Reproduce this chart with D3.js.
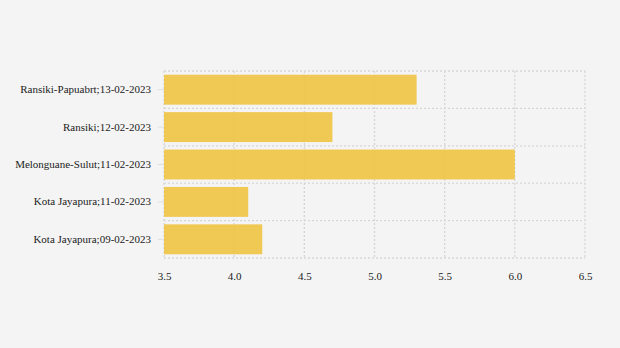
<!DOCTYPE html>
<html><head><meta charset="utf-8">
<script src="https://cdn.jsdelivr.net/npm/d3@7"></script>
<style>body{margin:0;background:#f4f4f4;}svg{display:block;} svg text{font-family:"Liberation Serif","Times New Roman",serif !important;}</style>
</head><body>
<script>
const categories = ["Ransiki-Papuabrt;13-02-2023","Ransiki;12-02-2023","Melonguane-Sulut;11-02-2023","Kota Jayapura;11-02-2023","Kota Jayapura;09-02-2023"];
const values = [5.3, 4.7, 6.0, 4.1, 4.2];
const xTicks = [3.5, 4.0, 4.5, 5.0, 5.5, 6.0, 6.5];

const W = 620, H = 348;
const m = {left:164, right:35, top:71, bottom:90};
const svg = d3.select("body").append("svg").attr("width", W).attr("height", H);
svg.append("rect").attr("width", W).attr("height", H).attr("fill", "#f4f4f4");

const x = d3.scaleLinear().domain([3.5, 6.5]).range([m.left, W - m.right]);
const y = d3.scaleBand().domain(categories).range([m.top, H - m.bottom]).paddingInner(0.2).paddingOuter(0.1);

// grid
const grid = svg.append("g").attr("stroke", "#d6d6d6").attr("stroke-width", 1.3).attr("stroke-dasharray", "2,2");
grid.selectAll("line.v").data(xTicks).join("line").attr("class","v")
  .attr("x1", d => x(d)).attr("x2", d => x(d)).attr("y1", m.top).attr("y2", H - m.bottom);
const bounds = d3.range(categories.length + 1).map(i => m.top + i * (H - m.bottom - m.top) / categories.length);
grid.selectAll("line.h").data(bounds).join("line").attr("class","h")
  .attr("x1", m.left).attr("x2", W - m.right).attr("y1", d => d).attr("y2", d => d);

// bars
svg.append("g").selectAll("rect").data(categories).join("rect")
  .attr("x", x(3.5)).attr("y", d => y(d))
  .attr("width", (d,i) => x(values[i]) - x(3.5))
  .attr("height", y.bandwidth())
  .attr("fill", "#efc548").attr("fill-opacity", 0.93);

// y axis
const yAxis = svg.append("g").attr("transform", `translate(${m.left},0)`)
  .call(d3.axisLeft(y).tickSize(6).tickPadding(7));
yAxis.select(".domain").remove();
yAxis.selectAll(".tick line").attr("stroke", "#ddd");
yAxis.selectAll("text").attr("font-size", 11).attr("fill", "#222");

// x axis
const xAxis = svg.append("g").attr("transform", `translate(0,${H - m.bottom})`)
  .call(d3.axisBottom(x).tickValues(xTicks).tickFormat(d3.format(".1f")).tickSize(0).tickPadding(14));
xAxis.select(".domain").remove();
xAxis.selectAll("text").attr("font-size", 11).attr("fill", "#222");
</script>
</body></html>
